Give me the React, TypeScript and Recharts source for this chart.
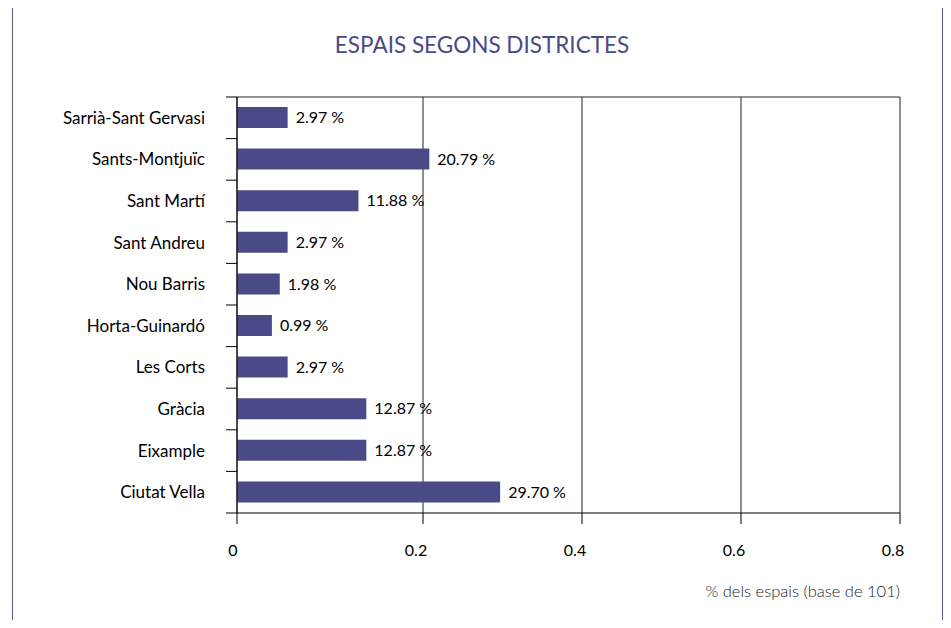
import { BarChart, Bar, XAxis, YAxis, CartesianGrid, LabelList } from "recharts"

const districts = [
  "Sarrià-Sant Gervasi",
  "Sants-Montjuïc",
  "Sant Martí",
  "Sant Andreu",
  "Nou Barris",
  "Horta-Guinardó",
  "Les Corts",
  "Gràcia",
  "Eixample",
  "Ciutat Vella",
]
const shares = [0.0297, 0.2079, 0.1188, 0.0297, 0.0198, 0.0099, 0.0297, 0.1287, 0.1287, 0.297]
const shareLabels = ["2.97 %", "20.79 %", "11.88 %", "2.97 %", "1.98 %", "0.99 %", "2.97 %", "12.87 %", "12.87 %", "29.70 %"]

// the original draws its "0" a little left of the true zero
const axisStart = -0.034
const xTicks = [axisStart, 0.2, 0.4, 0.6, 0.8]

const data = districts.map((name, i) => ({
  name,
  range: [axisStart, shares[i]],
  label: shareLabels[i],
}))

const font = "Lato, 'Open Sans', sans-serif"
const barColor = "#4b4a89"
const plotTop = 97
const plotBottom = 513
const band = (plotBottom - plotTop) / districts.length

function CategoryTick(props: any) {
  const { x, y, payload, index } = props
  return (
    <g>
      <line x1={x - 11} x2={x} y1={y + band / 2} y2={y + band / 2} stroke="#000" />
      {index === 0 && <line x1={x - 11} x2={x} y1={y - band / 2} y2={y - band / 2} stroke="#000" />}
      <text x={x - 32} y={y} dy={6} textAnchor="end" fontSize={17} fill="#000" fontFamily={font}>
        {payload.value}
      </text>
    </g>
  )
}

function ValueTick(props: any) {
  const { x, y, payload } = props
  const isZero = payload.value === axisStart
  return (
    <text x={x + (isZero ? -4 : -7)} y={y + 30} textAnchor="middle" fontSize={16} fill="#000" fontFamily={font}>
      {isZero ? "0" : String(payload.value)}
    </text>
  )
}

export default function App() {
  return (
    <div style={{ position: "relative", width: 951, height: 628, margin: -8, overflow: "hidden", background: "#fff" }}>
      <div
        style={{
          position: "absolute",
          left: 12,
          top: 5,
          width: 929,
          height: 700,
          borderTop: "1px solid #5b5a8c",
          borderLeft: "1px solid #5b5a8c",
          borderRight: "1px solid #5b5a8c",
        }}
      />
      <div
        style={{
          position: "absolute",
          left: 0,
          width: 964,
          top: 31,
          textAlign: "center",
          fontFamily: font,
          fontSize: 22.5,
          color: "#4b4a89",
        }}
      >
        ESPAIS SEGONS DISTRICTES
      </div>
      <div style={{ position: "absolute", left: 0, top: 0 }}>
        <BarChart
          width={951}
          height={628}
          data={data}
          layout="vertical"
          margin={{ top: plotTop, right: 51, left: 37, bottom: 75 }}
        >
          <CartesianGrid horizontalPoints={[plotTop]} stroke="#222" />
          <XAxis
            type="number"
            domain={[axisStart, 0.8]}
            ticks={xTicks}
            allowDataOverflow
            tick={<ValueTick />}
            tickSize={11}
            stroke="#000"
            height={40}
          />
          <YAxis
            type="category"
            dataKey="name"
            width={200}
            tick={<CategoryTick />}
            tickLine={false}
            tickSize={0}
            tickMargin={0}
            stroke="#000"
            interval={0}
          />
          <Bar dataKey="range" fill={barColor} barSize={21} isAnimationActive={false}>
            <LabelList dataKey="label" position="right" offset={8} fontSize={16} fill="#000" fontFamily={font} />
          </Bar>
        </BarChart>
      </div>
      <div
        style={{
          position: "absolute",
          right: 51,
          top: 581,
          fontFamily: font,
          fontSize: 16.5,
          fontWeight: 300,
          color: "#222",
        }}
      >
        % dels espais (base de 101)
      </div>
    </div>
  )
}
